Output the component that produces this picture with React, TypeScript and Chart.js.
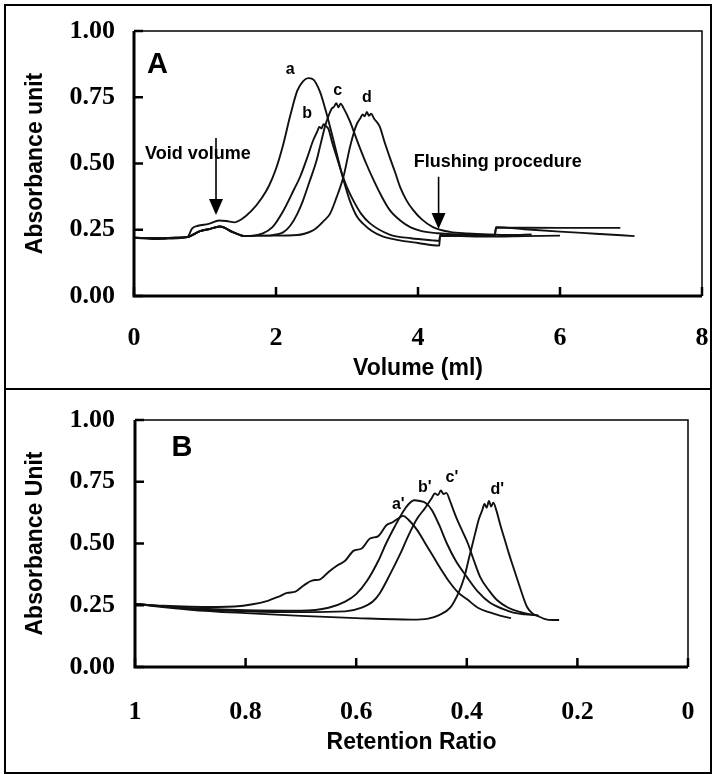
import React, { useEffect, useRef } from "react";
import { Chart, registerables } from "chart.js";

Chart.register(...registerables);

// ---------- Panel A data (Volume, ml -> Absorbance unit) ----------
const volTicks = [0, 2, 4, 6, 8];
const volTickLabels = ["0", "2", "4", "6", "8"];
const absTicks = [0, 0.25, 0.5, 0.75, 1.0];
const absTickLabels = ["0.00", "0.25", "0.50", "0.75", "1.00"];

const volA = [0, 0.3, 0.6, 0.75, 0.82, 0.9, 1.05, 1.2, 1.3, 1.42, 1.5, 1.65, 1.8, 1.9, 2.0, 2.1, 2.2, 2.3, 2.38, 2.45, 2.52, 2.62, 2.7, 2.76, 2.83, 2.9, 2.97, 3.04, 3.14, 3.23, 3.35, 3.5, 3.7, 4.0, 4.3, 4.31, 4.6, 5.0, 5.5, 6.0];
const absA = [0.22, 0.215, 0.218, 0.222, 0.255, 0.265, 0.272, 0.285, 0.283, 0.278, 0.287, 0.32, 0.37, 0.415, 0.48, 0.57, 0.68, 0.775, 0.81, 0.822, 0.818, 0.77, 0.7, 0.64, 0.565, 0.49, 0.42, 0.36, 0.3, 0.272, 0.245, 0.225, 0.212, 0.2, 0.19, 0.23, 0.226, 0.224, 0.226, 0.228];

const volB = [0, 0.3, 0.6, 0.75, 0.93, 1.05, 1.21, 1.4, 1.56, 1.7, 1.8, 1.95, 2.1, 2.25, 2.34, 2.45, 2.52, 2.58, 2.61, 2.64, 2.67, 2.7, 2.74, 2.79, 2.86, 2.93, 3.0, 3.09, 3.2, 3.32, 3.6, 3.9, 4.2, 4.3, 4.31, 4.7, 5.08, 5.1, 5.5, 6.0, 6.5, 7.05];
const absB = [0.22, 0.218, 0.22, 0.222, 0.245, 0.252, 0.262, 0.24, 0.226, 0.228, 0.235, 0.26, 0.32, 0.4, 0.45, 0.53, 0.585, 0.62, 0.638, 0.632, 0.648, 0.642, 0.63, 0.58, 0.52, 0.46, 0.41, 0.36, 0.31, 0.275, 0.232, 0.218, 0.21, 0.208, 0.226, 0.227, 0.226, 0.26, 0.252, 0.243, 0.235, 0.226];

const volC = [0, 0.3, 0.6, 0.75, 0.93, 1.05, 1.21, 1.4, 1.56, 1.7, 1.9, 2.0, 2.1, 2.2, 2.3, 2.38, 2.47, 2.57, 2.63, 2.69, 2.74, 2.78, 2.82, 2.85, 2.88, 2.91, 2.95, 3.04, 3.11, 3.18, 3.27, 3.37, 3.48, 3.6, 3.75, 3.89, 4.05, 4.27, 4.7, 5.08, 5.1, 6.0, 6.85];
const absC = [0.22, 0.218, 0.22, 0.222, 0.245, 0.252, 0.262, 0.24, 0.226, 0.228, 0.228, 0.232, 0.24, 0.265, 0.31, 0.36, 0.43, 0.51, 0.575, 0.64, 0.68, 0.705, 0.715, 0.728, 0.712, 0.726, 0.71, 0.66, 0.61, 0.56, 0.5, 0.44, 0.38, 0.325, 0.285, 0.26, 0.245, 0.237, 0.232, 0.23, 0.258, 0.257, 0.257];

const volD = [0, 0.3, 0.6, 0.75, 0.93, 1.05, 1.21, 1.4, 1.56, 1.7, 2.0, 2.3, 2.4, 2.5, 2.57, 2.66, 2.76, 2.85, 2.95, 3.04, 3.1, 3.14, 3.19, 3.22, 3.25, 3.28, 3.31, 3.34, 3.38, 3.46, 3.53, 3.6, 3.68, 3.75, 3.84, 3.93, 4.05, 4.21, 4.45, 4.7, 5.0, 5.3, 5.6];
const absD = [0.22, 0.218, 0.22, 0.222, 0.245, 0.252, 0.262, 0.24, 0.226, 0.228, 0.228, 0.23, 0.235, 0.245, 0.257, 0.28, 0.31, 0.37, 0.45, 0.56, 0.62, 0.65, 0.672, 0.685, 0.678, 0.695, 0.68, 0.688, 0.67, 0.64, 0.58, 0.525, 0.465, 0.41, 0.36, 0.325, 0.29, 0.26, 0.242, 0.236, 0.232, 0.23, 0.232];

const peakLabelsA = ["a", "b", "c", "d"];
const peakLabelXA = [2.2, 2.44, 2.87, 3.28];
const peakLabelYA = [0.853, 0.69, 0.777, 0.747];

// ---------- Panel B data (Retention ratio -> Absorbance Unit) ----------
const rrTicks = [1, 0.8, 0.6, 0.4, 0.2, 0];
const rrTickLabels = ["1", "0.8", "0.6", "0.4", "0.2", "0"];

const rrA = [1.0, 0.95, 0.9, 0.85, 0.82, 0.79, 0.76, 0.74, 0.725, 0.71, 0.695, 0.68, 0.665, 0.65, 0.635, 0.62, 0.605, 0.59, 0.575, 0.56, 0.545, 0.535, 0.525, 0.515, 0.505, 0.49, 0.475, 0.46, 0.445, 0.43, 0.415, 0.4, 0.38, 0.36, 0.34, 0.32];
const absAp = [0.255, 0.248, 0.244, 0.243, 0.245, 0.253, 0.268, 0.285, 0.3, 0.305, 0.33, 0.35, 0.355, 0.385, 0.41, 0.43, 0.47, 0.48, 0.52, 0.53, 0.575, 0.585, 0.6, 0.612, 0.595, 0.555, 0.5, 0.445, 0.39, 0.34, 0.3, 0.275, 0.24, 0.222, 0.208, 0.198];

const rrB = [1.0, 0.9, 0.8, 0.7, 0.65, 0.62, 0.6, 0.58, 0.56, 0.546, 0.53, 0.515, 0.505, 0.495, 0.485, 0.475, 0.463, 0.45, 0.436, 0.42, 0.4, 0.38, 0.358, 0.335, 0.316, 0.295, 0.275];
const absBp = [0.255, 0.238, 0.23, 0.228, 0.24, 0.265, 0.295, 0.35, 0.43, 0.5, 0.57, 0.63, 0.66, 0.675, 0.672, 0.665, 0.635, 0.575, 0.5, 0.43, 0.365, 0.305, 0.26, 0.235, 0.22, 0.213, 0.21];

const rrC = [1.0, 0.9, 0.8, 0.7, 0.62, 0.59, 0.57, 0.557, 0.54, 0.52, 0.505, 0.49, 0.475, 0.463, 0.458, 0.452, 0.447, 0.442, 0.437, 0.43, 0.425, 0.418, 0.408, 0.398, 0.387, 0.376, 0.36, 0.345, 0.325, 0.304, 0.285, 0.27];
const absCp = [0.255, 0.236, 0.226, 0.222, 0.225, 0.24, 0.265, 0.3, 0.37, 0.46, 0.535, 0.6, 0.645, 0.685, 0.703, 0.696, 0.715, 0.7, 0.705, 0.67, 0.64, 0.6, 0.55, 0.5, 0.43, 0.365, 0.31, 0.27, 0.24, 0.223, 0.213, 0.208];

const rrD = [1.0, 0.9, 0.8, 0.7, 0.6, 0.5, 0.47, 0.45, 0.43, 0.415, 0.405, 0.395, 0.385, 0.378, 0.372, 0.368, 0.364, 0.36, 0.356, 0.352, 0.346, 0.34, 0.332, 0.324, 0.316, 0.305, 0.291, 0.28, 0.273, 0.26, 0.245, 0.233];
const absDp = [0.255, 0.232, 0.218, 0.207, 0.198, 0.192, 0.196, 0.21, 0.24, 0.3, 0.36, 0.45, 0.54, 0.6, 0.635, 0.66, 0.645, 0.672, 0.65, 0.665, 0.63, 0.58, 0.52, 0.46, 0.405, 0.33, 0.243, 0.215, 0.208, 0.195, 0.19, 0.19];

const peakLabelsB = ["a'", "b'", "c'", "d'"];
const peakLabelXB = [0.524, 0.476, 0.427, 0.345];
const peakLabelYB = [0.656, 0.725, 0.765, 0.717];

// ---------- styling ----------
const tickFont = { family: "'Liberation Serif', 'Times New Roman', serif", size: 26, weight: "bold" as const };
const titleFont = { family: "'Liberation Sans', Arial, sans-serif", size: 23, weight: "bold" as const };
const SANS = "'Liberation Sans', Arial, sans-serif";

function series(xs: number[], ys: number[]) {
  return {
    data: xs.map((x, i) => ({ x, y: ys[i] })),
    borderColor: "#111",
    borderWidth: 1.9,
    pointRadius: 0,
    fill: false,
    cubicInterpolationMode: "monotone" as const,
  };
}

type Note = { text: string; x: number; y: number; size: number; align?: CanvasTextAlign };
type Arrow = { x: number; y0: number; y1: number };

function decorPlugin(notes: Note[], arrows: Arrow[]) {
  return {
    id: "decor",
    afterDraw(chart: any) {
      const { ctx, chartArea: ca, scales } = chart;
      const xs = scales.x;
      const ys = scales.y;
      ctx.save();
      ctx.strokeStyle = "#000";
      ctx.fillStyle = "#000";
      ctx.lineWidth = 1.5;
      ctx.beginPath();
      ctx.moveTo(ca.left, ca.top);
      ctx.lineTo(ca.right, ca.top);
      ctx.lineTo(ca.right, ca.bottom);
      ctx.stroke();
      ctx.lineWidth = 3;
      ctx.beginPath();
      ctx.moveTo(ca.left, ca.top);
      ctx.lineTo(ca.left, ca.bottom);
      ctx.lineTo(ca.right, ca.bottom);
      ctx.stroke();
      ctx.lineWidth = 2.5;
      ctx.beginPath();
      ys.ticks.forEach((t: any) => {
        const p = ys.getPixelForValue(t.value);
        ctx.moveTo(ca.left, p);
        ctx.lineTo(ca.left + 9, p);
      });
      xs.ticks.forEach((t: any) => {
        const p = xs.getPixelForValue(t.value);
        ctx.moveTo(p, ca.bottom);
        ctx.lineTo(p, ca.bottom - 9);
      });
      ctx.stroke();
      notes.forEach((n) => {
        ctx.font = `bold ${n.size}px ${SANS}`;
        ctx.textAlign = n.align || "center";
        ctx.textBaseline = "middle";
        ctx.fillText(n.text, xs.getPixelForValue(n.x), ys.getPixelForValue(n.y));
      });
      arrows.forEach((a) => {
        const px = xs.getPixelForValue(a.x);
        const top = ys.getPixelForValue(a.y0);
        const tip = ys.getPixelForValue(a.y1);
        ctx.lineWidth = 1.6;
        ctx.beginPath();
        ctx.moveTo(px, top);
        ctx.lineTo(px, tip - 15);
        ctx.stroke();
        ctx.beginPath();
        ctx.moveTo(px - 7, tip - 16);
        ctx.lineTo(px + 7, tip - 16);
        ctx.lineTo(px, tip);
        ctx.closePath();
        ctx.fill();
      });
      ctx.restore();
    },
  };
}

function axisY(title: string, width: number, pad: number) {
  return {
    type: "linear" as const,
    min: 0,
    max: 1,
    afterBuildTicks: (s: any) => {
      s.ticks = absTicks.map((v) => ({ value: v }));
    },
    afterFit: (s: any) => {
      s.width = width;
      s.paddingTop = 0;
      s.paddingBottom = 0;
    },
    ticks: {
      padding: pad,
      font: tickFont,
      color: "#000",
      autoSkip: false,
      callback: (_v: any, i: number) => absTickLabels[i],
    },
    grid: { display: false, drawTicks: false },
    border: { display: false },
    title: { display: true, text: title, font: titleFont, color: "#000", padding: { top: 22, bottom: 0 } },
  };
}

function axisX(opts: {
  min: number;
  max: number;
  reverse: boolean;
  ticks: number[];
  labels: string[];
  height: number;
  pad: number;
  title: string;
  titlePad: number;
}) {
  return {
    type: "linear" as const,
    min: opts.min,
    max: opts.max,
    reverse: opts.reverse,
    afterBuildTicks: (s: any) => {
      s.ticks = opts.ticks.map((v) => ({ value: v }));
    },
    afterFit: (s: any) => {
      s.height = opts.height;
      s.paddingLeft = 0;
      s.paddingRight = 0;
    },
    ticks: {
      padding: opts.pad,
      font: tickFont,
      color: "#000",
      maxRotation: 0,
      autoSkip: false,
      callback: (_v: any, i: number) => opts.labels[i],
    },
    grid: { display: false, drawTicks: false },
    border: { display: false },
    title: { display: true, text: opts.title, font: titleFont, color: "#000", padding: { top: 0, bottom: opts.titlePad } },
  };
}

function configA() {
  const notes: Note[] = [
    { text: "A", x: 0.33, y: 0.87, size: 29 },
    { text: "Void volume", x: 0.155, y: 0.536, size: 18, align: "left" },
    { text: "Flushing procedure", x: 3.94, y: 0.506, size: 18, align: "left" },
    ...peakLabelsA.map((t, i) => ({ text: t, x: peakLabelXA[i], y: peakLabelYA[i], size: 16 })),
  ];
  const arrows: Arrow[] = [
    { x: 1.155, y0: 0.596, y1: 0.306 },
    { x: 4.29, y0: 0.45, y1: 0.253 },
  ];
  return {
    type: "line" as const,
    data: { datasets: [series(volA, absA), series(volB, absB), series(volC, absC), series(volD, absD)] },
    options: {
      animation: false as const,
      responsive: false,
      events: [],
      layout: { padding: { top: 31, right: 10, left: 0, bottom: 0 } },
      plugins: { legend: { display: false }, tooltip: { enabled: false } },
      scales: {
        x: axisX({ min: 0, max: 8, reverse: false, ticks: volTicks, labels: volTickLabels, height: 94, pad: 27, title: "Volume (ml)", titlePad: 8 }),
        y: axisY("Absorbance unit", 134, 19),
      },
    },
    plugins: [decorPlugin(notes, arrows)],
  };
}

function configB() {
  const notes: Note[] = [
    { text: "B", x: 0.915, y: 0.887, size: 29 },
    ...peakLabelsB.map((t, i) => ({ text: t, x: peakLabelXB[i], y: peakLabelYB[i], size: 16 })),
  ];
  return {
    type: "line" as const,
    data: { datasets: [series(rrA, absAp), series(rrB, absBp), series(rrC, absCp), series(rrD, absDp)] },
    options: {
      animation: false as const,
      responsive: false,
      events: [],
      layout: { padding: { top: 30, right: 24, left: 0, bottom: 0 } },
      plugins: { legend: { display: false }, tooltip: { enabled: false } },
      scales: {
        x: axisX({ min: 0, max: 1, reverse: true, ticks: rrTicks, labels: rrTickLabels, height: 107, pad: 30, title: "Retention Ratio", titlePad: 18 }),
        y: axisY("Absorbance Unit", 135, 20),
      },
    },
    plugins: [decorPlugin(notes, [])],
  };
}

function Panel({ make, top, height }: { make: () => any; top: number; height: number }) {
  const ref = useRef<HTMLCanvasElement>(null);
  useEffect(() => {
    const chart = new Chart(ref.current as HTMLCanvasElement, make());
    return () => chart.destroy();
  }, [make]);
  return (
    <canvas
      ref={ref}
      width={712}
      height={height}
      style={{ position: "absolute", left: 0, top, width: 712, height, display: "block" }}
    />
  );
}

export default function App() {
  return (
    <div style={{ position: "fixed", left: 0, top: 0, width: 712, height: 774, background: "#fff", overflow: "hidden" }}>
      <Panel make={configA} top={0} height={390} />
      <Panel make={configB} top={390} height={384} />
      <div
        style={{
          position: "absolute",
          left: 4,
          top: 4,
          width: 704,
          height: 766,
          border: "2px solid #000",
          pointerEvents: "none",
        }}
      />
      <div style={{ position: "absolute", left: 4, top: 388, width: 708, height: 2, background: "#000" }} />
    </div>
  );
}
